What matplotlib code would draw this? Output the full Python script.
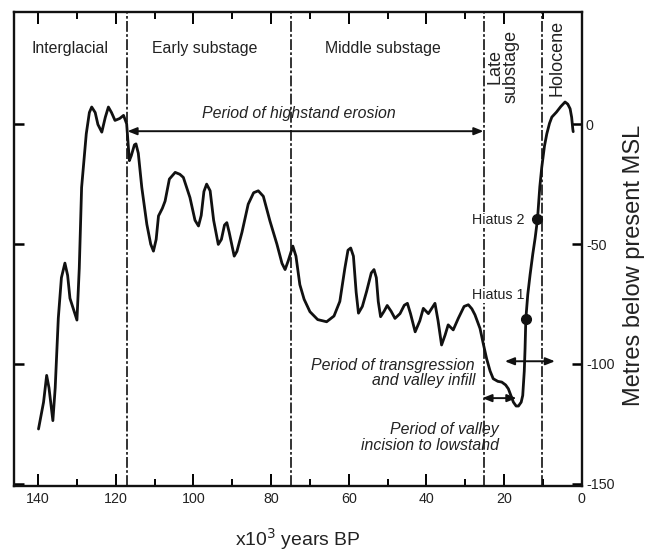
import matplotlib
matplotlib.use("Agg")
import matplotlib.pyplot as plt
from matplotlib import font_manager

plt.rcParams["axes.unicode_minus"] = False

# sea-level curve (ka BP, m relative to present MSL)
age = [139.9, 138.6, 137.8, 137.2, 136.2, 135.6, 134.8, 134.0, 133.1, 132.4,
       131.8, 130.0, 129.4, 128.8, 127.6, 126.8, 126.2, 125.3, 124.6, 123.6,
       122.7, 121.9, 121.1, 120.2, 119.0, 118.0, 117.2, 116.5, 116.0, 115.2,
       114.8, 114.2, 113.3, 112.0, 111.0, 110.3, 109.6, 109.0, 108.0, 107.3,
       106.2, 104.7, 103.5, 102.6, 100.9, 99.6, 98.7, 98.0, 97.3, 96.6,
       95.7, 94.8, 93.6, 92.8, 92.0, 91.4, 90.8, 89.5, 88.8, 87.5,
       85.9, 84.5, 83.3, 82.0, 80.3, 78.5, 77.2, 76.4, 75.6, 74.4,
       73.6, 72.6, 71.5, 70.0, 68.0, 65.7, 63.8, 62.3, 61.0, 60.2,
       59.5, 58.8, 58.1, 57.5, 56.5, 55.4, 54.2, 53.5, 52.9, 52.4,
       51.8, 50.9, 50.1, 49.1, 48.1, 46.8, 45.7, 44.9, 44.1, 42.9,
       41.7, 40.8, 39.5, 37.8, 37.0, 36.1, 35.2, 34.4, 33.1, 31.8,
       30.3, 29.2, 28.3, 27.5, 26.2, 25.3, 24.5, 23.6, 22.8, 21.6,
       20.6, 19.6, 18.9, 17.6, 16.9, 16.3, 15.6, 15.2, 14.8, 14.6,
       14.4, 13.9, 13.3, 12.6, 12.0, 11.4, 10.8, 10.3, 9.6, 9.0,
       8.3, 7.7, 6.5, 5.4, 4.3, 3.6, 3.0, 2.6, 2.3, 2.2]
level = [-127.2, -116.0, -104.8, -110.0, -123.7, -110.0, -80.9, -64.0, -57.9, -63.0,
         -72.6, -81.7, -60.0, -26.3, -3.9, 5.0, 7.3, 5.0, 0.0, -3.2,
         3.0, 7.3, 5.0, 1.7, 2.5, 3.8, 0.3, -15.1, -13.0, -8.5,
         -8.1, -12.0, -26.3, -41.7, -50.0, -52.9, -48.0, -38.2, -35.0, -32.0,
         -22.8, -20.0, -20.8, -22.1, -30.5, -40.0, -42.4, -38.0, -28.0, -24.9,
         -27.7, -40.0, -50.1, -48.0, -42.0, -41.0, -45.0, -55.0, -53.0, -45.0,
         -33.3, -28.5, -27.7, -30.0, -40.3, -50.0, -58.0, -60.6, -57.0, -50.8,
         -55.0, -66.9, -73.0, -78.2, -81.5, -82.4, -80.0, -73.9, -60.0, -52.5,
         -51.6, -55.0, -70.0, -78.8, -76.0, -69.7, -62.0, -60.6, -64.0, -74.0,
         -80.3, -78.0, -75.6, -78.0, -81.0, -79.0, -75.5, -74.7, -79.0, -86.6,
         -82.0, -76.8, -79.0, -74.7, -82.0, -92.1, -88.0, -83.7, -85.8, -81.0,
         -76.0, -75.3, -77.0, -79.5, -85.2, -92.0, -97.8, -103.0, -106.2, -107.3,
         -107.6, -108.8, -110.4, -116.0, -117.6, -117.6, -116.0, -113.2, -103.0, -93.6,
         -81.2, -71.0, -62.7, -54.0, -47.4, -39.6, -26.0, -17.9, -9.0, -3.9,
         0.5, 3.1, 5.2, 7.5, 9.4, 8.5, 6.6, 3.0, -2.0, -3.0]

# hiatus markers
hiatus_age = [14.4, 11.4]
hiatus_level = [-81.2, -39.6]
hiatus_names = ["Hiatus 1", "Hiatus 2"]

# stage boundaries (ka) and stage names
boundaries = [117, 75, 25.3, 10.2]
stage_names = ["Interglacial", "Early substage", "Middle substage"]
stage_x = [131.8, 97.0, 51.2]

x_ticks = [140, 120, 100, 80, 60, 40, 20, 0]
y_ticks = [0, -50, -100, -150]

names = {f.name for f in font_manager.fontManager.ttflist}
if "Liberation Sans Narrow" in names:
    NARROW, k = "Liberation Sans Narrow", 1.0
else:
    NARROW, k = "Liberation Sans", 0.82
REG = "Liberation Sans"

fig = plt.figure(figsize=(6.5, 5.52), dpi=100)
ax = fig.add_axes([0.021, 0.1196, 0.874, 0.8587])

ax.plot(age, level, color="#111111", lw=2.0, solid_joinstyle="round",
        solid_capstyle="round", zorder=3)
ax.plot(hiatus_age, hiatus_level, "o", color="#111111", ms=7, zorder=4)

for b in boundaries:
    ax.axvline(b, color="#111111", lw=1.2, dashes=(6.5, 1.4, 1.6, 1.4), zorder=2)

ax.set_xlim(146.3, 0)
ax.set_ylim(-151, 47)

# arrows
arrow = dict(arrowstyle="<|-|>,head_length=0.55,head_width=0.22",
             color="#111111", lw=1.4, shrinkA=0, shrinkB=0)
ax.annotate("", xy=(25.3, -2.8), xytext=(117, -2.8), arrowprops=arrow)
ax.annotate("", xy=(6.9, -98.9), xytext=(19.8, -98.9), arrowprops=arrow)
ax.annotate("", xy=(16.8, -114.3), xytext=(25.6, -114.3), arrowprops=arrow)

# texts
for name, x in zip(stage_names, stage_x):
    ax.text(x, 31.9, name, ha="center", va="center", family=NARROW,
            fontsize=14 * k, color="#222222")
ax.text(20.3, 24.4, "Late\nsubstage", rotation=90, ha="center", va="center",
        multialignment="center", family=REG, fontsize=13, linespacing=0.95,
        color="#222222")
ax.text(6.4, 27.7, "Holocene", rotation=90, ha="center", va="center",
        family=REG, fontsize=13, color="#222222")

ax.text(72.9, 4.6, "Period of highstand erosion", ha="center", va="center",
        family=NARROW, style="italic", fontsize=14 * k, color="#222222")
ax.text(27.5, -103.8, "Period of transgression\nand valley infill", ha="right",
        va="center", multialignment="right", family=NARROW, style="italic",
        fontsize=14 * k, linespacing=0.95, color="#222222")
ax.text(21.3, -130.7, "Period of valley\nincision to lowstand", ha="right",
        va="center", multialignment="right", family=NARROW, style="italic",
        fontsize=14 * k, linespacing=1.05, color="#222222")
hiatus_box = dict(facecolor="white", edgecolor="none", pad=0.8)
ax.text(21.6, -71.1, hiatus_names[0], ha="center", va="center", family=NARROW,
        fontsize=12.5 * k, color="#222222", bbox=hiatus_box, zorder=5)
ax.text(21.5, -40.0, hiatus_names[1], ha="center", va="center", family=NARROW,
        fontsize=12.5 * k, color="#222222", bbox=hiatus_box, zorder=5)

# axes styling
for s in ax.spines.values():
    s.set_linewidth(1.7)
    s.set_color("#111111")

ax.set_xticks(x_ticks)
ax.set_xticks(range(0, 150, 10), minor=True)
ax.set_yticks(y_ticks)
ax.tick_params(axis="x", which="major", direction="in", top=True, bottom=True,
               length=8.5, width=1.4, labelsize=12.5 * k, pad=4)
ax.tick_params(axis="x", which="minor", direction="in", top=True, bottom=True,
               length=4.8, width=1.4)
ax.tick_params(axis="y", which="major", direction="in", left=True, right=True,
               labelleft=False, labelright=True, length=7, width=1.8,
               labelsize=12.5 * k, pad=3)
for lab in ax.get_xticklabels() + ax.get_yticklabels():
    lab.set_family(NARROW)
    lab.set_color("#222222")

ax.set_xlabel("x10$^3$ years BP", family=NARROW, fontsize=17 * k, color="#222222")
ax.xaxis.set_label_coords(0.5, -0.085)
ax.yaxis.set_label_position("right")
ax.set_ylabel("Metres below present MSL", family=REG, fontsize=17, color="#222222")
ax.yaxis.set_label_coords(1.073, 0.466)

fig.savefig("out.png", dpi=100)
